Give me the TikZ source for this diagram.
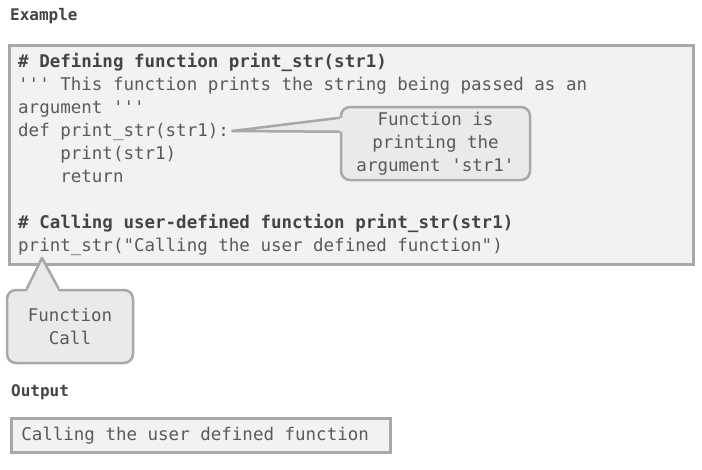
\documentclass[tikz,border=0pt]{standalone}
\usepackage{fontspec}
\newfontfamily\codefont{DejaVu Sans Mono}
\usetikzlibrary{calc}

\definecolor{boxfill}{HTML}{F2F2F2}
\definecolor{boxline}{HTML}{A8A8A8}
\definecolor{notefill}{HTML}{EAEAEA}
\definecolor{codetext}{HTML}{5A5A5A}
\definecolor{headtext}{HTML}{444444}

\tikzset{
  code/.style={anchor=base west,inner sep=0pt,text=codetext,font=\codefont\fontsize{17.5}{23}\selectfont},
  codebold/.style={code,text=headtext,font=\codefont\bfseries\fontsize{17.5}{23}\selectfont},
  heading/.style={anchor=base west,inner sep=0pt,text=headtext,font=\codefont\bfseries\fontsize{16}{20}\selectfont},
  codebox/.style={draw=boxline,fill=boxfill,line width=2.5pt,inner sep=0pt,anchor=north west},
  note/.style={draw=boxline,fill=notefill,line width=2.5pt,rounded corners=9pt,inner sep=0pt,
    align=center,text=codetext,font=\codefont\fontsize{17.5}{23}\selectfont},
  pointer/.style={draw=boxline,line width=2.5pt,line join=round}
}

\begin{document}
\begin{tikzpicture}[x=1pt,y=-1pt]

\fill[white] (0,0) rectangle (702,469);
\useasboundingbox (0,0) rectangle (702,469);

\node[heading](example) at (10,20) {Example};

\node[codebox,minimum width=684pt,minimum height=219pt](example box) at (8,44) {};

\node[codebold](line def comment) at (18,67) {\# Defining function print\_str(str1)};
\node[code](line doc a) at (18,90) {''' This function prints the string being passed as an};
\node[code](line doc b) at (18,113) {argument '''};
\node[code](line def) at (18,136) {def print\_str(str1):};
\node[code](line print) at (18,159) {\ \ \ \ print(str1)};
\node[code](line return) at (18,182) {\ \ \ \ return};
\node[codebold](line call comment) at (18,228) {\# Calling user-defined function print\_str(str1)};
\node[code](line call) at (18,251) {print\_str("Calling the user defined function")};

% callout for the function body
\node[note,minimum width=189pt,minimum height=73pt](body note) at (435.5,143.5)
  {Function is\\printing the\\argument 'str1'};
\coordinate (body tip) at (line def.base east);
\coordinate (body tip) at ($(body tip)+(3,-5)$);
\coordinate (body a) at ($(body note.north west)+(0,12)$);
\coordinate (body b) at ($(body note.north west)+(0,26)$);
\fill[notefill] ($(body a)+(3,0)$) -- (body tip) -- ($(body b)+(3,0)$) -- cycle;
\draw[pointer] (body a) -- (body tip) -- (body b);

% callout for the function call
\node[note,minimum width=126pt,minimum height=73pt](call note) at (70,326.5)
  {Function\\Call};
\coordinate (call tip) at (42,258);
\coordinate (call a) at ($(call note.north west)+(21,0)$);
\coordinate (call b) at ($(call note.north west)+(53,0)$);
\fill[notefill] ($(call a)+(0,3)$) -- (call tip) -- ($(call b)+(0,3)$) -- cycle;
\draw[pointer] (call a) -- (call tip) -- (call b);

\node[heading](output) at (11,396) {Output};

\node[codebox,text width=359pt,minimum height=34pt,inner xsep=10pt,align=left,
  text=codetext,font=\codefont\fontsize{17.5}{23}\selectfont](output box) at (10,417)
  {\spaceskip=0pt Calling the user defined function};

\end{tikzpicture}
\end{document}
